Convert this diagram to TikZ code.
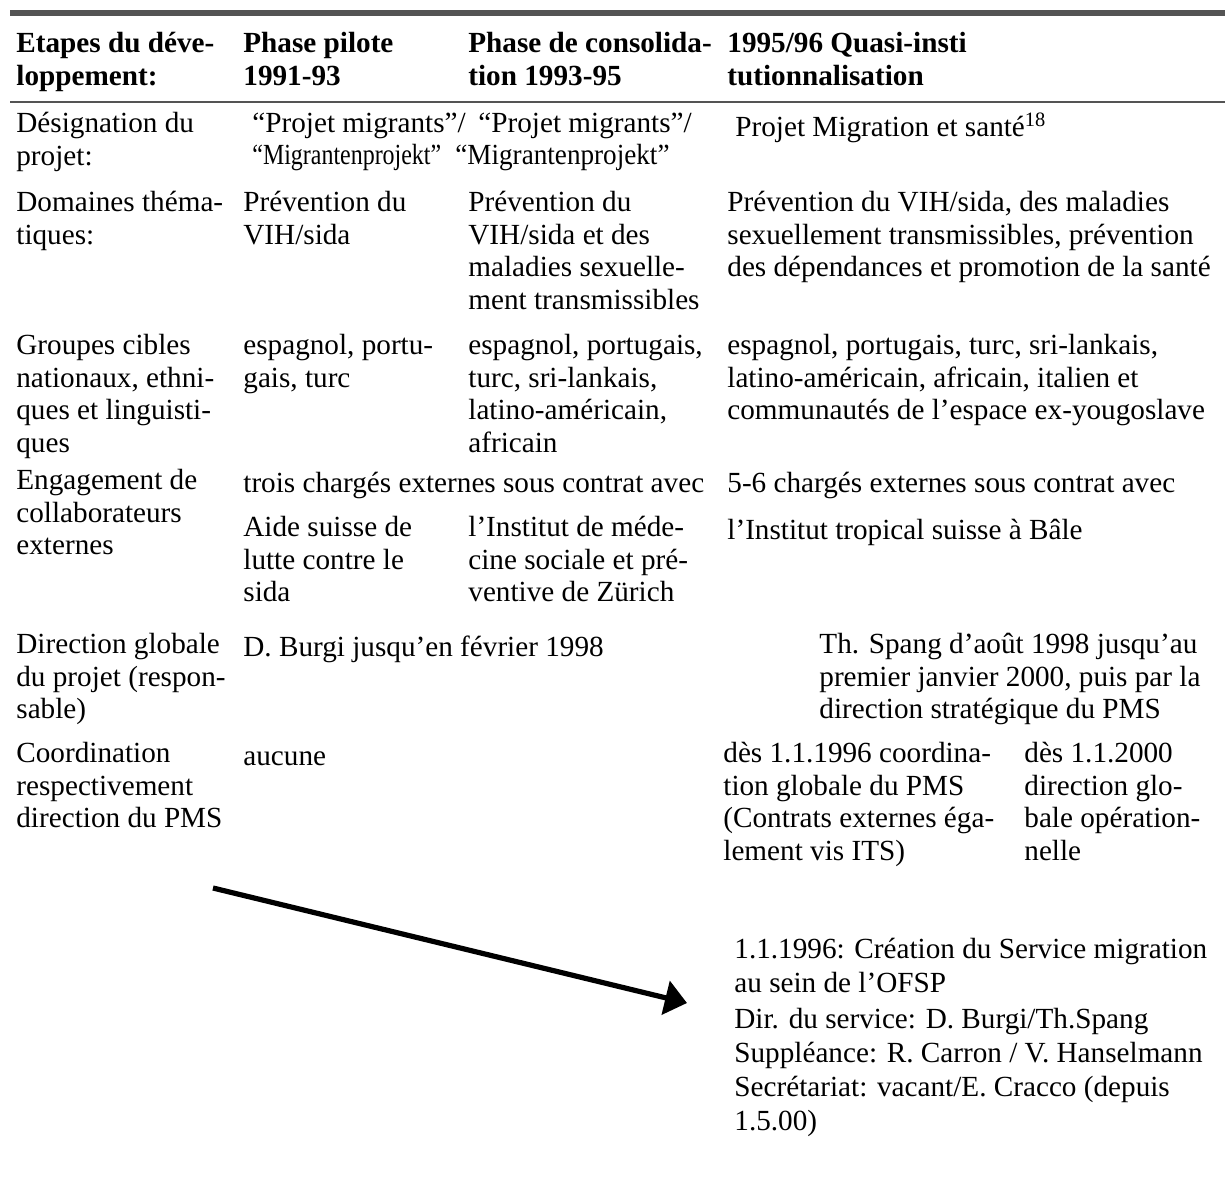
\documentclass[tikz,border=0pt]{standalone}
\usepackage{fontspec}
\setmainfont{Liberation Serif}
\newfontfamily\squeezefont{Liberation Serif}[FakeStretch=0.82]
\newfontfamily\slimfont{Liberation Serif}[FakeStretch=0.93]
\usepackage{tikz}
\usetikzlibrary{arrows.meta}
\usetikzlibrary{positioning}
\newcommand{\tabfont}{\fontsize{14.6}{16.25}\selectfont}
\newcommand{\boxfont}{\fontsize{14.6}{17}\selectfont}
\definecolor{rulegray}{gray}{0.33}

\begin{document}
\begin{tikzpicture}[x=0.5pt,y=-0.5pt,
	cell/.style={anchor=north west,inner sep=0pt,align=left,font=\tabfont,
		execute at begin node=\strut,yshift=11.375pt},
	head/.style={cell,font=\tabfont\bfseries},
	note/.style={anchor=north west,inner sep=0pt,align=left,font=\boxfont,
		execute at begin node=\strut,yshift=11.9pt},
	rulethick/.style={rulegray,line width=3pt},
	rulethin/.style={rulegray,line width=0.9pt},
	bigarrow/.style={-{Triangle[length=11pt,width=17pt]},line width=2.6pt}]
	\useasboundingbox (0,0) rectangle (1225,1178);

	% rules
	\draw[rulethick] (10,13) -- (1225,13);
	\draw[rulethin] (10,102) -- (1225,102);

	% header
	\node[head] (hdEtapes) at (16,55) {Etapes du déve-\\loppement:};
	\node[head] (hdPilote) at (243,55) {Phase pilote\\1991-93};
	\node[head] (hdConsol) at (468,55) {Phase de consolida-\\tion 1993-95};
	\node[head] (hdQuasi) at (727,55) {1995/96 Quasi-insti\\tutionnalisation};

	% designation
	\node[cell] (rowDesig) at (16,135) {Désignation du\\projet:};
	\node[cell] (desPilote) at (252,135) {“Projet migrants”/\\{\squeezefont “Migrantenprojekt”}};
	\node[cell] (desConsol) at (455,135) {\hspace*{11.5pt}“Projet migrants”/\\{\slimfont “Migrantenprojekt”}};
	\node[cell] (desQuasi) at (735,135) {Projet Migration et santé\textsuperscript{18}};

	% domaines
	\node[cell] (rowDomain) at (16,214) {Domaines théma-\\tiques:};
	\node[cell] (domPilote) at (243,214) {Prévention du\\VIH/sida};
	\node[cell] (domConsol) at (468,214) {Prévention du\\VIH/sida et des\\maladies sexuelle-\\ment transmissibles};
	\node[cell] (domQuasi) at (727,214) {Prévention du VIH/sida, des maladies\\sexuellement transmissibles, prévention\\des dépendances et promotion de la santé};

	% groupes cibles
	\node[cell] (rowGroup) at (16,357) {Groupes cibles\\nationaux, ethni-\\ques et linguisti-\\ques};
	\node[cell] (grpPilote) at (243,357) {espagnol, portu-\\gais, turc};
	\node[cell] (grpConsol) at (468,357) {espagnol, portugais,\\turc, sri-lankais,\\latino-américain,\\africain};
	\node[cell] (grpQuasi) at (727,357) {espagnol, portugais, turc, sri-lankais,\\latino-américain, africain, italien et\\communautés de l’espace ex-yougoslave};

	% collaborateurs externes
	\node[cell] (rowCollab) at (16,492) {Engagement de\\collaborateurs\\externes};
	\node[cell] (colPilote) at (243,492) {trois chargés externes sous contrat avec};
	\node[cell] (colQuasi) at (727,492) {5-6 chargés externes sous contrat avec};
	\node[cell] (aidsHilfe) at (243,539) {Aide suisse de\\lutte contre le\\sida};
	\node[cell] (ismZurich) at (468,539) {l’Institut de méde-\\cine sociale et pré-\\ventive de Zürich};
	\node[cell] (stiBale) at (727,539) {l’Institut tropical suisse à Bâle};

	% direction globale
	\node[cell] (rowDirect) at (16,656) {Direction globale\\du projet (respon-\\sable)};
	\node[cell] (dirBurgi) at (243,656) {D. Burgi jusqu’en février 1998};
	\node[cell] (dirSpang) at (819,656) {Th. Spang d’août 1998 jusqu’au\\premier janvier 2000, puis par la\\direction stratégique du PMS};

	% coordination
	\node[cell] (rowCoord) at (16,765) {Coordination\\respectivement\\direction du PMS};
	\node[cell] (cooNone) at (243,765) {aucune};
	\node[cell] (coo1996) at (723,765) {dès 1.1.1996 coordina-\\tion globale du PMS\\(Contrats externes éga-\\lement vis ITS)};
	\node[cell] (coo2000) at (1024,765) {dès 1.1.2000\\direction glo-\\bale opération-\\nelle};

	% service migration
	\node[note] (service) at (734,962) {1.1.1996: Création du Service migration\\au sein de l’OFSP\\[1pt]Dir. du service: D. Burgi/Th.Spang\\Suppléance: R. Carron / V. Hanselmann\\Secrétariat: vacant/E. Cracco (depuis\\1.5.00)};

	\coordinate (arrowTail) at (213,888);
	\coordinate (arrowTip) at (687,1003);
	\draw[bigarrow] (arrowTail) -- (arrowTip);
\end{tikzpicture}
\end{document}
